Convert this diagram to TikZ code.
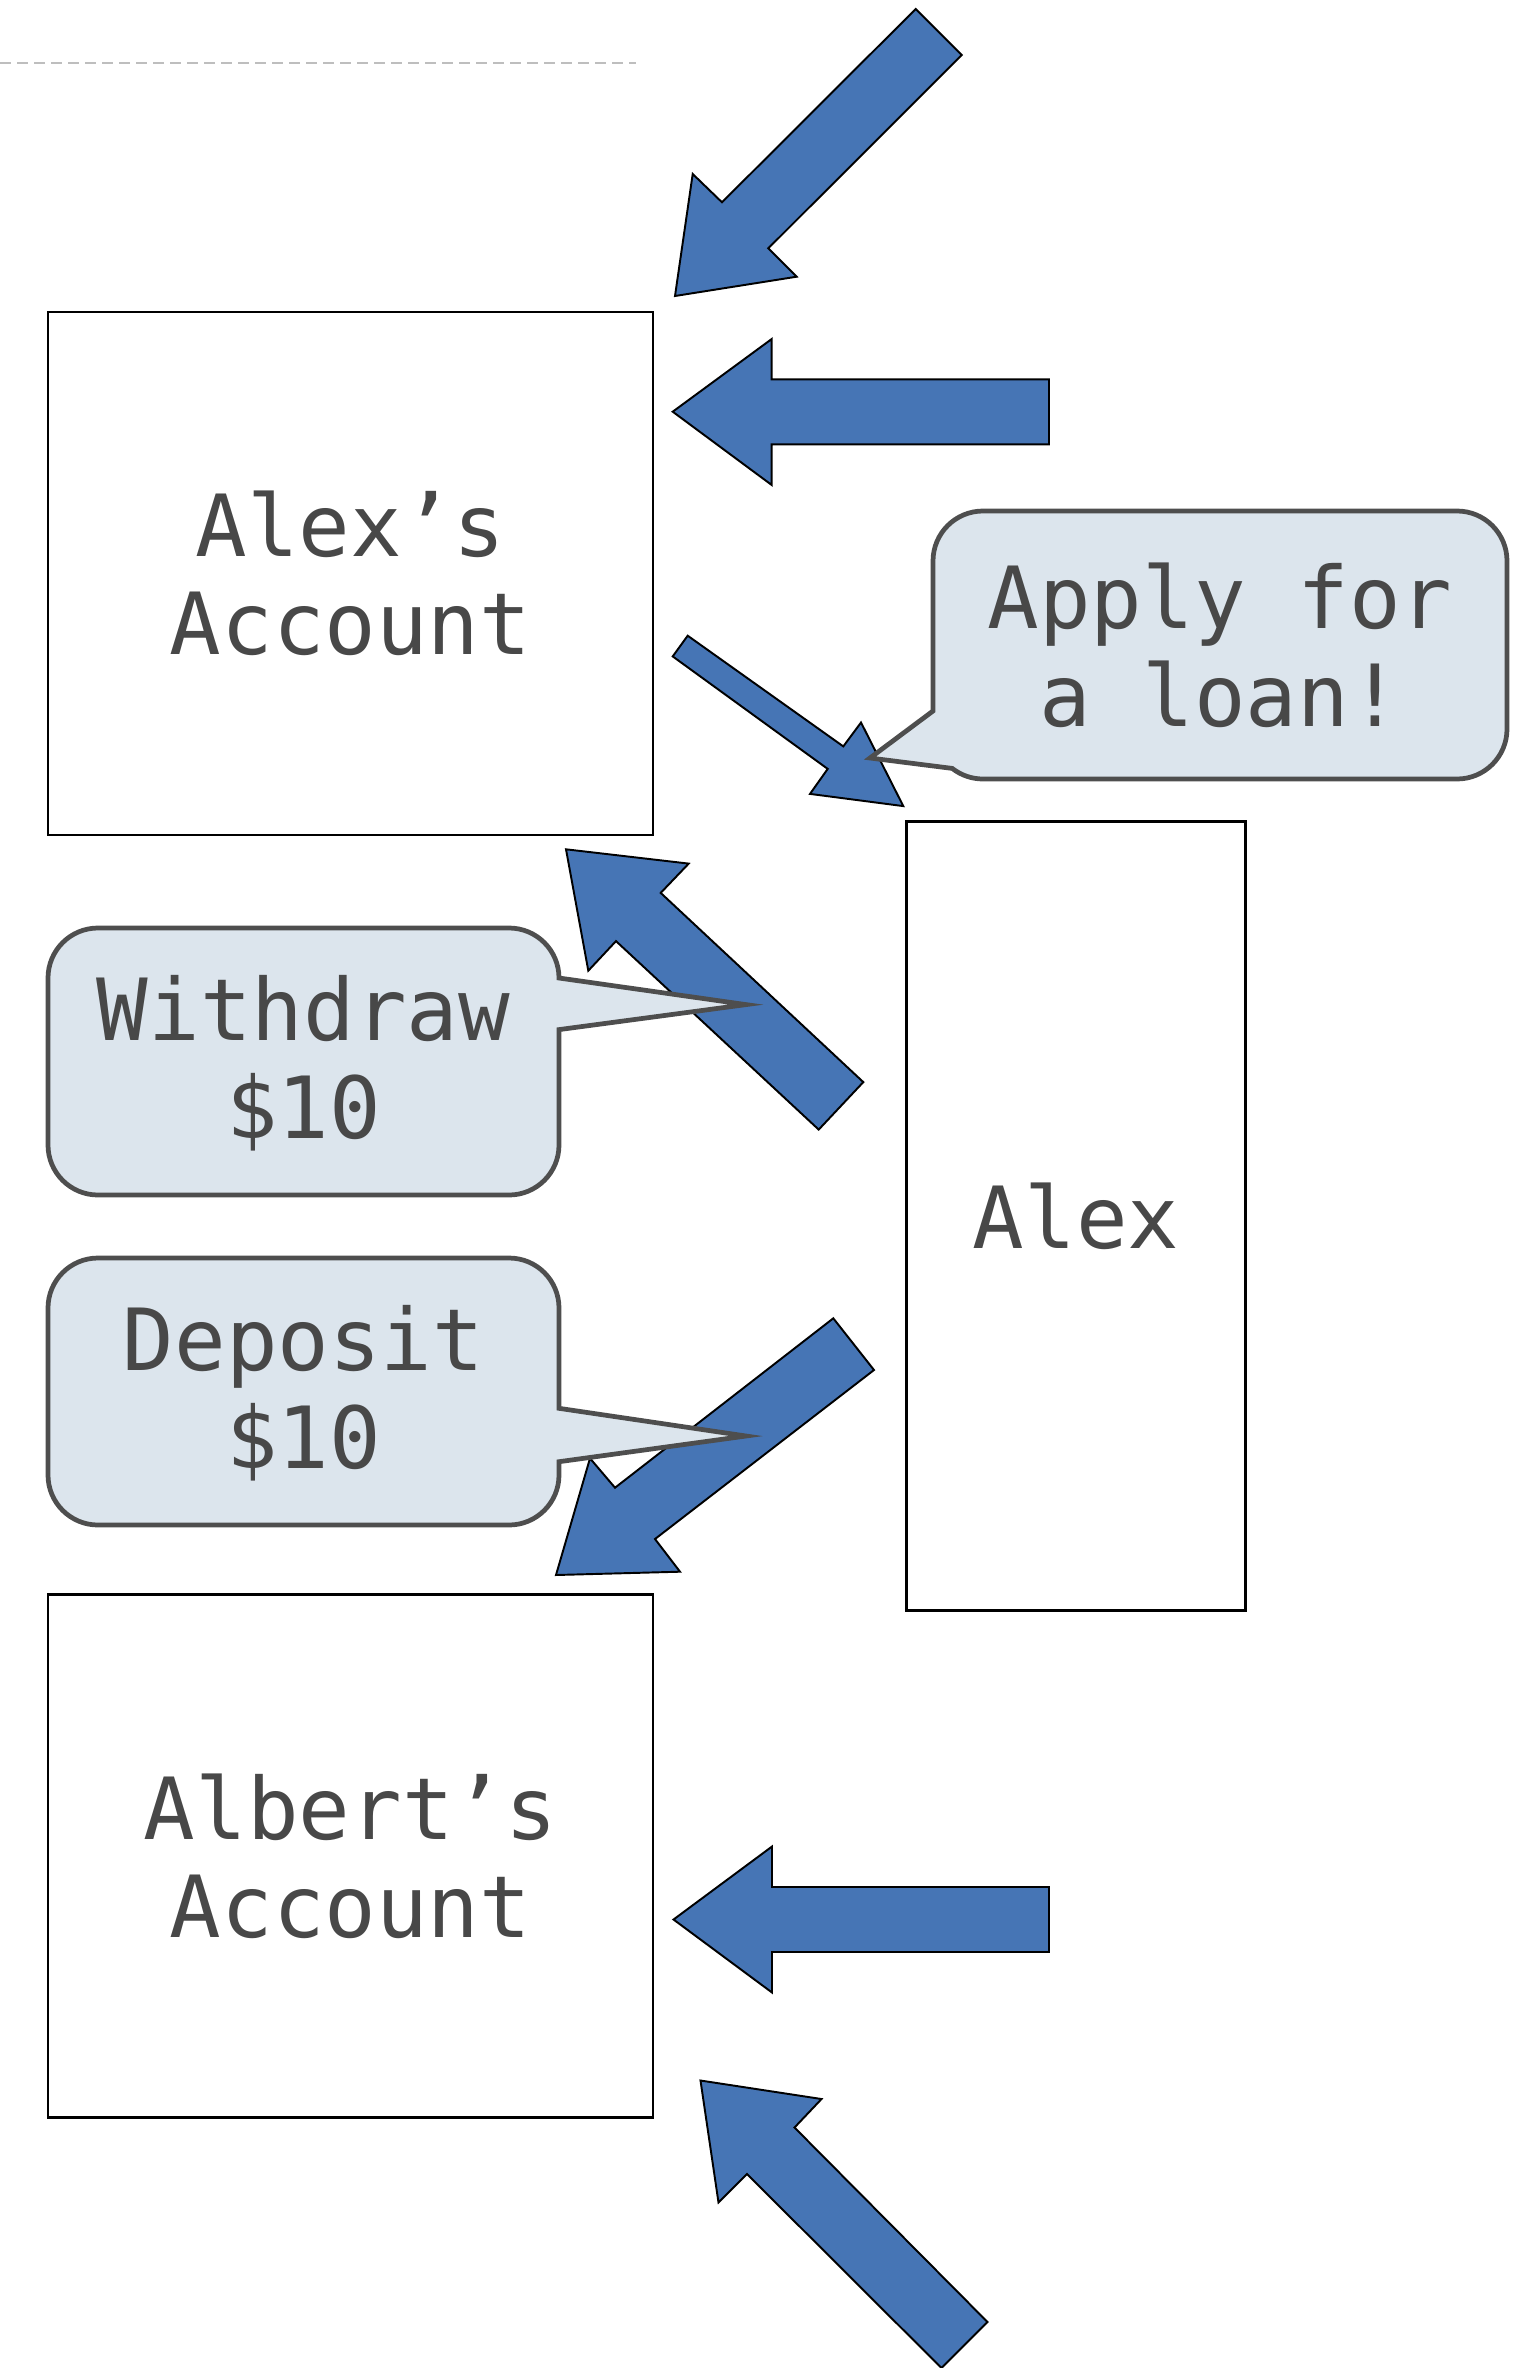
\documentclass[tikz,border=0pt]{standalone}
\usepackage{fontspec}
\setmonofont{DejaVu Sans Mono}
\usepackage{xcolor}

\definecolor{arrowblue}{RGB}{70,117,181}
\definecolor{notefill}{RGB}{220,229,237}
\definecolor{notedraw}{RGB}{78,78,78}
\definecolor{textgray}{RGB}{72,72,72}
\definecolor{dashgray}{RGB}{190,190,190}

\tikzset{
    monotext/.style={text=textgray, font=\ttfamily\fontsize{24.4}{28}\selectfont, align=center, inner sep=0pt},
    account/.style={draw=black, line width=0.8pt, monotext},
    bigarrow/.style={fill=arrowblue, draw=black, line width=0.55pt},
    bubble/.style={fill=notefill, draw=notedraw, line width=1.35pt},
    dashline/.style={draw=dashgray, line width=0.7pt, dash pattern=on 1.1mm off 0.6mm}
}

\begin{document}
\begin{tikzpicture}[x=0.1mm, y=-0.1mm]
    \useasboundingbox (0,0) rectangle (1531,2368);

    \draw[dashline] (0,63) -- (636,63);

    % Define the nodes with specific positions
    \node[account, minimum width=60.5mm, minimum height=52.3mm] (alexacct) at (350.5,573.5) {Alex’s\\Account};
    \node[account, minimum width=60.5mm, minimum height=52.3mm] (albertacct) at (350.5,1856.2) {Albert’s\\Account};
    \node[account, minimum width=33.9mm, minimum height=78.9mm] (alex) at (1076,1216.2) {Alex};

    % Draw the block arrows
    \draw[bigarrow] (915.7,9) -- (961.7,55) -- (768.3,248.3) -- (796.7,276.7) -- (675,296) -- (692.7,174) -- (722,202.3) -- cycle;
    \draw[bigarrow] (1049,379.3) -- (771.7,379.3) -- (771.7,339) -- (672.7,411.7) -- (771.7,485) -- (771.7,444.3) -- (1049,444.3) -- cycle;
    \draw[bigarrow] (687.7,635.7) -- (843.3,746.4) -- (861,722.5) -- (903.3,806.1) -- (810,793.9) -- (827.7,768.9) -- (672.7,656.4) -- cycle;
    \draw[bigarrow] (863.3,1082.1) -- (660.7,892.9) -- (688.7,863.6) -- (566,849.3) -- (588.3,970.7) -- (616,941.1) -- (818.7,1129.6) -- cycle;
    \draw[bigarrow] (833.3,1318.3) -- (874,1370) -- (655,1539) -- (680,1571.7) -- (556,1575) -- (590,1458.3) -- (615,1487.7) -- cycle;
    \draw[bigarrow] (1049,1887) -- (772,1887) -- (772,1846.5) -- (673.5,1919.5) -- (772,1992.5) -- (772,1952) -- (1049,1952) -- cycle;
    \draw[bigarrow] (700.5,2080.5) -- (821.5,2099) -- (794.5,2127.5) -- (987.5,2322) -- (941.5,2368) -- (747,2174) -- (718.5,2202.5) -- cycle;

    % Draw the speech bubbles
    \draw[bubble] (983,511) -- (1457,511) arc[start angle=270, end angle=360, radius=50] -- (1507,729)
        arc[start angle=0, end angle=90, radius=50] -- (983,779) arc[start angle=90, end angle=128, radius=50]
        -- (870,758) -- (933,711) -- (933,561) arc[start angle=180, end angle=270, radius=50] -- cycle;
    \draw[bubble] (98,928) -- (509,928) arc[start angle=270, end angle=360, radius=50] -- (746,1004.6)
        -- (559,1029.6) -- (559,1145) arc[start angle=0, end angle=90, radius=50] -- (98,1195)
        arc[start angle=90, end angle=180, radius=50] -- (48,978) arc[start angle=180, end angle=270, radius=50] -- cycle;
    \draw[bubble] (98,1258) -- (509,1258) arc[start angle=270, end angle=360, radius=50] -- (559,1408.3)
        -- (746,1436) -- (559,1461.7) -- (559,1475) arc[start angle=0, end angle=90, radius=50] -- (98,1525)
        arc[start angle=90, end angle=180, radius=50] -- (48,1308) arc[start angle=180, end angle=270, radius=50] -- cycle;

    \node[monotext] (loan) at (1220,645) {Apply for\\a loan!};
    \node[monotext] (withdraw) at (303.5,1063) {Withdraw\\\$10};
    \node[monotext] (deposit) at (303.5,1393) {Deposit\\\$10};
\end{tikzpicture}
\end{document}
